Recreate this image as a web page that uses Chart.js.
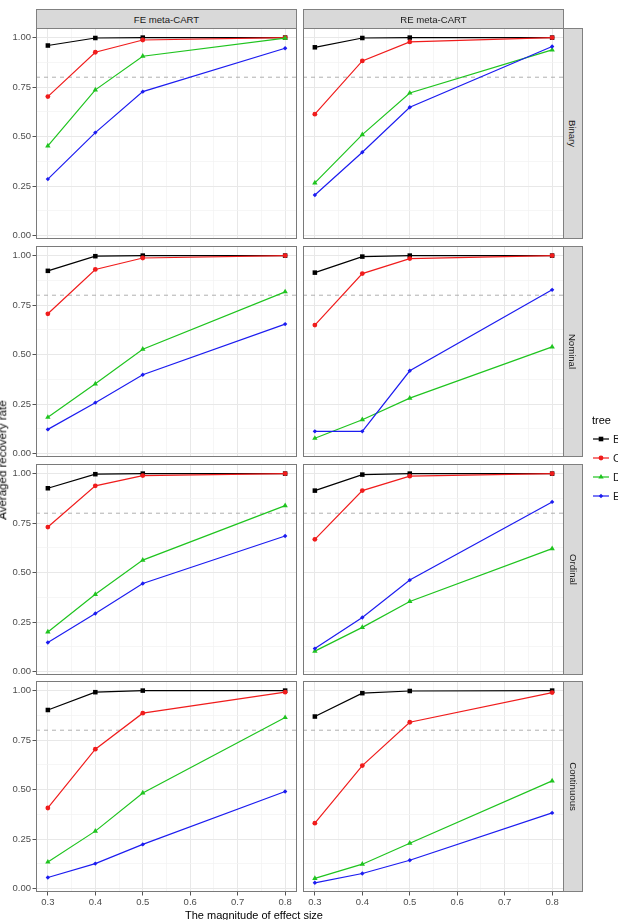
<!DOCTYPE html>
<html>
<head>
<meta charset="utf-8">
<script src="https://cdn.jsdelivr.net/npm/chart.js@4.4.1/dist/chart.umd.min.js"></script>
<style>
html,body{margin:0;padding:0;background:#fff;}
body{width:618px;height:920px;overflow:hidden;position:relative;font-family:"Liberation Sans",Arial,Helvetica,sans-serif;}
canvas{position:absolute;}
.strip{position:absolute;background:#d9d9d9;border:1px solid #808080;box-sizing:border-box;color:#1a1a1a;font-size:9.6px;display:flex;align-items:center;justify-content:center;overflow:hidden;}
.strip span{white-space:nowrap;display:inline-block;}
.vstrip span{transform:rotate(90deg);}
.lab{position:absolute;white-space:nowrap;line-height:1;}
</style>
</head>
<body>
<script>
// ---------- data ----------
const effectSizes = [0.3, 0.4, 0.5, 0.8];
const methods = ['FE meta-CART', 'RE meta-CART'];
const moderatorTypes = ['Binary', 'Nominal', 'Ordinal', 'Continuous'];
const trees = ['B', 'C', 'D', 'E'];
const xTicks = [0.3, 0.4, 0.5, 0.6, 0.7, 0.8];
const xMinorTicks = [0.35, 0.45, 0.55, 0.65, 0.75];
const yTicks = [0, 0.25, 0.5, 0.75, 1];
const yMinorTicks = [0.125, 0.375, 0.625, 0.875];
const threshold = 0.8;
const axisTitleX = 'The magnitude of effect size';
const axisTitleY = 'Averaged recovery rate';
const legendTitle = 'tree';

// FE meta-CART
const feBinB = [0.960, 0.998, 1.000, 1.000];
const feBinC = [0.702, 0.926, 0.988, 1.000];
const feBinD = [0.453, 0.736, 0.906, 0.997];
const feBinE = [0.285, 0.520, 0.727, 0.946];
const feNomB = [0.923, 0.997, 1.000, 1.000];
const feNomC = [0.706, 0.930, 0.988, 1.000];
const feNomD = [0.183, 0.352, 0.527, 0.817];
const feNomE = [0.122, 0.257, 0.398, 0.654];
const feOrdB = [0.926, 0.997, 1.000, 1.000];
const feOrdC = [0.730, 0.938, 0.990, 1.000];
const feOrdD = [0.200, 0.390, 0.563, 0.838];
const feOrdE = [0.147, 0.293, 0.445, 0.685];
const feConB = [0.902, 0.992, 1.000, 1.000];
const feConC = [0.407, 0.704, 0.886, 0.992];
const feConD = [0.134, 0.290, 0.483, 0.864];
const feConE = [0.056, 0.126, 0.223, 0.490];
// RE meta-CART
const reBinB = [0.951, 0.998, 1.000, 1.000];
const reBinC = [0.613, 0.882, 0.978, 1.000];
const reBinD = [0.266, 0.510, 0.720, 0.938];
const reBinE = [0.205, 0.421, 0.648, 0.955];
const reNomB = [0.914, 0.995, 1.000, 1.000];
const reNomC = [0.649, 0.909, 0.985, 1.000];
const reNomD = [0.077, 0.171, 0.280, 0.539];
const reNomE = [0.112, 0.112, 0.418, 0.827];
const reOrdB = [0.914, 0.995, 1.000, 1.000];
const reOrdC = [0.668, 0.914, 0.987, 1.000];
const reOrdD = [0.103, 0.223, 0.354, 0.621];
const reOrdE = [0.116, 0.273, 0.462, 0.857];
const reConB = [0.869, 0.987, 0.998, 1.000];
const reConC = [0.330, 0.621, 0.840, 0.990];
const reConD = [0.051, 0.123, 0.229, 0.544];
const reConE = [0.029, 0.076, 0.143, 0.382];

const panelSeries = [
  [[feBinB, feBinC, feBinD, feBinE], [reBinB, reBinC, reBinD, reBinE]],
  [[feNomB, feNomC, feNomD, feNomE], [reNomB, reNomC, reNomD, reNomE]],
  [[feOrdB, feOrdC, feOrdD, feOrdE], [reOrdB, reOrdC, reOrdD, reOrdE]],
  [[feConB, feConC, feConD, feConE], [reConB, reConC, reConD, reConE]]
];

// ---------- styles / layout ----------
const colors = ['#000000', '#f01c1c', '#1fc41f', '#1c1cf0'];
const shapes = ['rect', 'circle', 'triangle', 'rectRot'];
const radii = [3.2, 2.4, 3.1, 2.2];
const FONT = '"Liberation Sans", Arial, Helvetica, sans-serif';
const colLeft = [36, 303], colW = 261;
const rowTop = [28, 246, 464, 681], rowH = 211;
const P = 8;
const X_MIN = 0.275, X_MAX = 0.825, Y_MIN = -0.0175, Y_MAX = 1.0485;

const near = (arr, v) => arr.some(t => Math.abs(t - v) < 1e-9);

const panelPlugin = {
  id: 'panelDeco',
  beforeDatasetsDraw(chart) {
    const { ctx, chartArea: a, scales } = chart;
    const py = scales.y.getPixelForValue(threshold);
    ctx.save();
    ctx.strokeStyle = '#a8a8a8';
    ctx.lineWidth = 0.9;
    ctx.setLineDash([4, 4]);
    ctx.beginPath();
    ctx.moveTo(a.left, py);
    ctx.lineTo(a.right, py);
    ctx.stroke();
    ctx.restore();
  },
  afterDraw(chart) {
    const { ctx, chartArea: a } = chart;
    ctx.save();
    ctx.strokeStyle = '#7a7a7a';
    ctx.lineWidth = 1;
    ctx.strokeRect(Math.round(a.left) + 0.5, Math.round(a.top) + 0.5, Math.round(a.width) - 1, Math.round(a.height) - 1);
    ctx.restore();
  }
};

function addDiv(cls, text, style) {
  const d = document.createElement('div');
  d.className = cls;
  const s = document.createElement('span');
  s.textContent = text;
  d.appendChild(s);
  Object.assign(d.style, style);
  document.body.appendChild(d);
  return d;
}

for (let r = 0; r < 4; r++) {
  for (let c = 0; c < 2; c++) {
    const left = c === 0 ? 0 : colLeft[c] - P;
    const top = rowTop[r] - P;
    const right = colLeft[c] + colW + P;
    const bottom = r === 3 ? rowTop[r] + rowH + 30 : rowTop[r] + rowH + P;
    const cv = document.createElement('canvas');
    cv.width = right - left;
    cv.height = bottom - top;
    cv.style.left = left + 'px';
    cv.style.top = top + 'px';
    cv.style.width = (right - left) + 'px';
    cv.style.height = (bottom - top) + 'px';
    document.body.appendChild(cv);
    const series = panelSeries[r][c];
    const showX = r === 3, showY = c === 0;
    new Chart(cv.getContext('2d'), {
      type: 'line',
      data: {
        datasets: trees.map((t, k) => ({
          label: t,
          data: effectSizes.map((x, i) => ({ x: x, y: series[k][i] })),
          borderColor: colors[k],
          backgroundColor: colors[k],
          pointBackgroundColor: colors[k],
          pointBorderColor: colors[k],
          pointBorderWidth: 0,
          pointStyle: shapes[k],
          pointRadius: radii[k],
          borderWidth: 1.2,
          tension: 0,
          order: 4 - k
        }))
      },
      options: {
        responsive: false,
        animation: false,
        devicePixelRatio: 1,
        events: [],
        layout: { padding: { left: c === 0 ? 0 : P, right: P, top: P, bottom: r === 3 ? 0 : P } },
        plugins: { legend: { display: false }, tooltip: { enabled: false } },
        scales: {
          x: {
            type: 'linear', min: X_MIN, max: X_MAX, bounds: 'data',
            afterBuildTicks: s => { s.ticks = xTicks.concat(xMinorTicks).sort((a, b) => a - b).map(v => ({ value: v })); },
            afterFit: s => { s.height = showX ? 30 : 0; },
            ticks: {
              display: showX, autoSkip: false, maxRotation: 0, padding: 1.5,
              color: '#4d4d4d', font: { size: 9.5, family: FONT },
              callback: v => near(xTicks, v) ? v.toFixed(1) : ''
            },
            grid: {
              color: ctx => near(xTicks, ctx.tick.value) ? '#e8e8e8' : '#f2f2f2',
              lineWidth: ctx => near(xTicks, ctx.tick.value) ? 1 : 0.7,
              drawTicks: showX, tickLength: 3.5, tickWidth: 1,
              tickColor: ctx => near(xTicks, ctx.tick.value) ? '#555555' : 'rgba(0,0,0,0)'
            },
            border: { display: false }
          },
          y: {
            type: 'linear', min: Y_MIN, max: Y_MAX, bounds: 'data',
            afterBuildTicks: s => { s.ticks = yTicks.concat(yMinorTicks).sort((a, b) => a - b).map(v => ({ value: v })); },
            afterFit: s => { s.width = showY ? 36 : 0; },
            ticks: {
              display: showY, autoSkip: false, padding: 1.5,
              color: '#4d4d4d', font: { size: 9.5, family: FONT },
              callback: v => near(yTicks, v) ? v.toFixed(2) : ''
            },
            grid: {
              color: ctx => near(yTicks, ctx.tick.value) ? '#e8e8e8' : '#f2f2f2',
              lineWidth: ctx => near(yTicks, ctx.tick.value) ? 1 : 0.7,
              drawTicks: showY, tickLength: 3.5, tickWidth: 1,
              tickColor: ctx => near(yTicks, ctx.tick.value) ? '#555555' : 'rgba(0,0,0,0)'
            },
            border: { display: false }
          }
        }
      },
      plugins: [panelPlugin]
    });
  }
}

// strips
methods.forEach((m, c) => {
  addDiv('strip', m, { left: colLeft[c] + 'px', top: '9px', width: colW + 'px', height: '20px' });
});
moderatorTypes.forEach((m, r) => {
  addDiv('strip vstrip', m, { left: (colLeft[1] + colW - 1) + 'px', top: rowTop[r] + 'px', width: '20px', height: rowH + 'px' });
});

// axis titles
addDiv('lab', axisTitleX, { left: '254px', top: '910px', fontSize: '11px', color: '#000', transform: 'translateX(-50%)' });
addDiv('lab', axisTitleY, { left: '3px', top: '460px', fontSize: '11.5px', color: '#000', transform: 'translate(-50%,-50%) rotate(-90deg)' });

// legend
addDiv('lab', legendTitle, { left: '592px', top: '415px', fontSize: '11px', color: '#000' });
const legendY = [439, 458, 477, 496];
trees.forEach((t, k) => {
  const ns = 'http://www.w3.org/2000/svg';
  const svg = document.createElementNS(ns, 'svg');
  svg.setAttribute('width', '18'); svg.setAttribute('height', '10');
  svg.style.position = 'absolute';
  svg.style.left = '592px';
  svg.style.top = (legendY[k] - 5) + 'px';
  const ln = document.createElementNS(ns, 'line');
  ln.setAttribute('x1', '1'); ln.setAttribute('x2', '17'); ln.setAttribute('y1', '5'); ln.setAttribute('y2', '5');
  ln.setAttribute('stroke', colors[k]); ln.setAttribute('stroke-width', '1.2');
  svg.appendChild(ln);
  let mk;
  if (shapes[k] === 'rect') {
    mk = document.createElementNS(ns, 'rect');
    mk.setAttribute('x', '6.7'); mk.setAttribute('y', '2.7'); mk.setAttribute('width', '4.6'); mk.setAttribute('height', '4.6');
  } else if (shapes[k] === 'circle') {
    mk = document.createElementNS(ns, 'circle');
    mk.setAttribute('cx', '9'); mk.setAttribute('cy', '5'); mk.setAttribute('r', '2.4');
  } else if (shapes[k] === 'triangle') {
    mk = document.createElementNS(ns, 'polygon');
    mk.setAttribute('points', '9,1.9 11.7,6.6 6.3,6.6');
  } else {
    mk = document.createElementNS(ns, 'polygon');
    mk.setAttribute('points', '9,2.8 11.2,5 9,7.2 6.8,5');
  }
  mk.setAttribute('fill', colors[k]);
  svg.appendChild(mk);
  document.body.appendChild(svg);
  addDiv('lab', t, { left: '613px', top: (legendY[k] - 5.5) + 'px', fontSize: '11px', color: '#1a1a1a' });
});
</script>
</body>
</html>
